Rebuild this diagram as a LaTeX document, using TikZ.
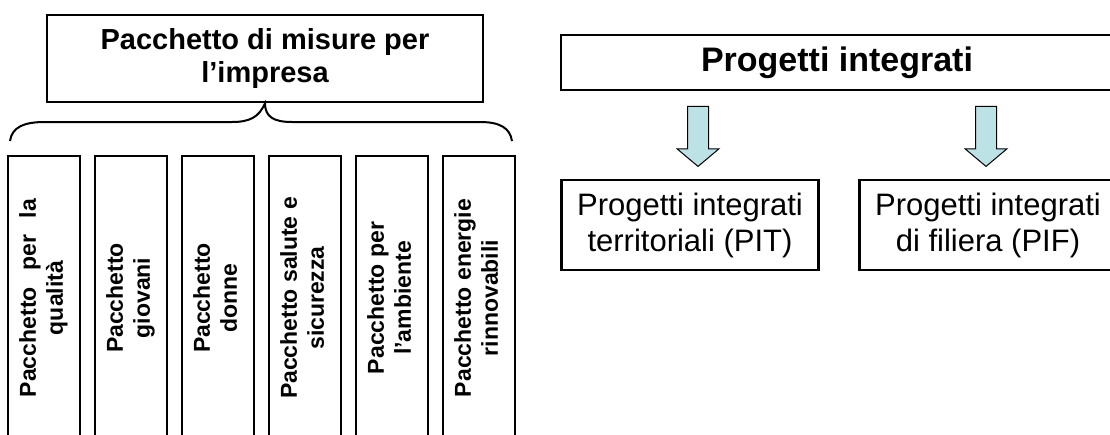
\documentclass[tikz,border=0pt]{standalone}
\usepackage{fontspec}
\setmainfont{Liberation Sans}
\usepackage{graphicx}
\usetikzlibrary{shapes.arrows, positioning}

\definecolor{arrowfill}{RGB}{189,226,229}

% two-line label turned upright
\newcommand{\vtext}[2]{\rotatebox{90}{\begin{tabular}{@{}c@{}}#1\\#2\end{tabular}}}

\begin{document}
\begin{tikzpicture}[x=1pt, y=-1pt,
    titlebox/.style={draw, line width=2.6pt, rectangle, align=center, inner sep=0pt,
                     font=\fontsize{29}{33}\selectfont\bfseries,
                     minimum width=436pt, minimum height=87pt},
    pkgbox/.style={draw, line width=2.6pt, rectangle, inner sep=0pt,
                   font=\fontsize{23}{27}\selectfont\bfseries,
                   minimum width=72pt, minimum height=284pt},
    headbox/.style={draw, line width=2.6pt, rectangle, inner sep=0pt,
                    font=\fontsize{34}{38}\selectfont\bfseries,
                    minimum width=552pt, minimum height=55pt},
    projbox/.style={draw, line width=2.4pt, rectangle, align=center, inner sep=0pt,
                    font=\fontsize{31}{36}\selectfont,
                    minimum width=257pt, minimum height=90pt},
    downarrow/.style={draw, line width=1pt, fill=arrowfill, single arrow,
                      shape border rotate=270, inner sep=10pt,
                      minimum height=60pt, single arrow head extend=10.5pt,
                      single arrow tip angle=100},
    brace/.style={draw, line width=2pt}
]
    \useasboundingbox (0,0) rectangle (1110,434);

    % ========== Pacchetto di misure per l'impresa ==========
    \node[titlebox] (misure) at (265,58.5) {Pacchetto di misure per\\l’impresa};

    \node[pkgbox] (qualita) at (44,298)
        {\vtext{Pacchetto\hspace{.45em} per\hspace{.45em} la}{qualità}};
    \node[pkgbox, right=12.4pt of qualita] (giovani)   {\vtext{Pacchetto}{giovani}};
    \node[pkgbox, right=12.4pt of giovani]  (donne)     {\vtext{Pacchetto}{donne}};
    \node[pkgbox, right=12.4pt of donne]    (salute)    {\vtext{Pacchetto salute e}{sicurezza}};
    \node[pkgbox, right=12.4pt of salute]   (ambiente)  {\vtext{Pacchetto per}{l’ambiente}};
    \node[pkgbox, right=12.4pt of ambiente] (energie)   {\vtext{Pacchetto energie}{rinnovabili}};

    % --- brace ---
    \coordinate (tip) at (misure.south);
    \draw[brace] (10,141) .. controls (12,127) and (24,122) .. (45,122) -- (232,122)
        .. controls (250,122) and (259,117) .. (tip)
        .. controls (265,117) and (274,122) .. (292,122) -- (480,122)
        .. controls (500,122) and (510,128) .. (512,141);

    % ========== Progetti integrati ==========
    \node[headbox] (integrati) at (837,62.5) {Progetti integrati};

    \node[projbox] (pit) at (690,225) {Progetti integrati\\territoriali (PIT)};
    \node[projbox] (pif) at (988,225) {Progetti integrati\\di filiera (PIF)};

    % --- block arrows ---
    \node[downarrow] (arpit) at (698,132) {};
    \node[downarrow] (arpif) at (986,132) {};
\end{tikzpicture}
\end{document}
